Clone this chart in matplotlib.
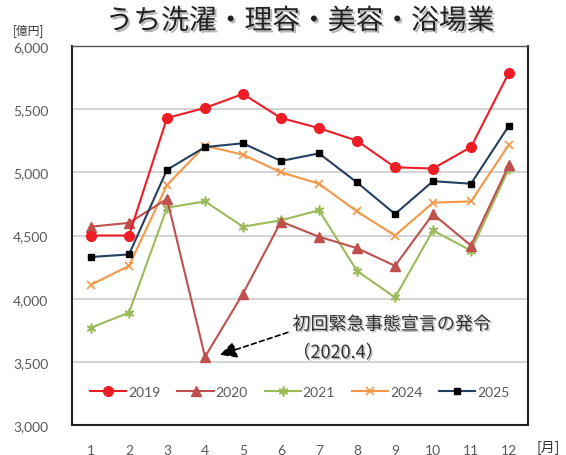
import matplotlib
matplotlib.use("Agg")
import matplotlib.pyplot as plt
import matplotlib.patheffects as pe

months = [1, 2, 3, 4, 5, 6, 7, 8, 9, 10, 11, 12]
month_labels = ["1", "2", "3", "4", "5", "6", "7", "8", "9", "10", "11", "12"]
y_ticks = [3000, 3500, 4000, 4500, 5000, 5500, 6000]
y_tick_labels = ["3,000", "3,500", "4,000", "4,500", "5,000", "5,500", "6,000"]

s2019 = [4500, 4500, 5430, 5510, 5620, 5430, 5350, 5250, 5040, 5030, 5200, 5790]
s2020 = [4570, 4600, 4790, 3540, 4040, 4610, 4490, 4400, 4260, 4670, 4420, 5060]
s2021 = [3770, 3890, 4720, 4770, 4570, 4620, 4700, 4220, 4010, 4540, 4380, 5030]
s2024 = [4110, 4260, 4900, 5210, 5140, 5000, 4910, 4690, 4500, 4760, 4770, 5220]
s2025 = [4330, 4350, 5020, 5200, 5230, 5090, 5150, 4920, 4670, 4930, 4910, 5370]

title = "うち洗濯・理容・美容・浴場業"
annot_line1 = "初回緊急事態宣言の発令"
annot_line2 = "（2020.4）"

JP = ["Noto Sans CJK JP", "DejaVu Sans"]
NUM = ["Lato", "DejaVu Sans"]
plt.rcParams["font.family"] = JP

fig = plt.figure(figsize=(5.66, 4.56), dpi=100)
ax = fig.add_axes([72 / 566, 30 / 456, (528 - 72) / 566, (426 - 47) / 456])

ax.plot(months, s2019, color="#EE1C25", lw=1.5, marker="o", ms=7, label="2019", zorder=5)
ax.plot(months, s2020, color="#C0504D", lw=1.5, marker="^", ms=6.5, label="2020", zorder=4)
ax.plot(months, s2021, color="#9BBB59", lw=1.5, marker=(6, 2, 0), ms=7, mew=1.2, label="2021", zorder=3)
ax.plot(months, s2024, color="#F79646", lw=1.5, marker="x", ms=6, mew=1.2, label="2024", zorder=3)
ax.plot(months, s2025, color="#243F60", lw=1.5, marker="s", ms=5, mfc="black", mec="black", label="2025", zorder=4)

ax.set_xlim(0.5, 12.5)
ax.set_ylim(3000, 6000)
ax.set_yticks(y_ticks)
ax.set_yticklabels(y_tick_labels, fontfamily=NUM, fontsize=10, color="#595959")
ax.set_xticks(months)
ax.set_xticklabels(month_labels, fontfamily=NUM, fontsize=10, color="#595959")
ax.tick_params(axis="both", length=0)
ax.tick_params(axis="y", pad=17)
ax.tick_params(axis="x", pad=14)
ax.grid(axis="y", color="#C8C8C8", lw=1.1)
ax.set_axisbelow(True)
for sp in ax.spines.values():
    sp.set_color("#222222")
    sp.set_linewidth(1.5)
ax.spines["top"].set_linewidth(1.0)
ax.spines["top"].set_color("#555555")

leg = ax.legend(loc="center", bbox_to_anchor=(0.5, (426 - 393) / 379), ncol=5, frameon=False,
                handlelength=2.6, columnspacing=1.2, handletextpad=0.15,
                prop={"family": NUM, "size": 10})
for t in leg.get_texts():
    t.set_color("#595959")

ax.annotate("", xy=(4.32, 3548), xytext=(6.25, 3740),
            arrowprops=dict(arrowstyle="-|>,head_length=1.0,head_width=0.5", linestyle=(0, (3, 2)),
                            color="black", lw=1.2))
sh = [pe.withSimplePatchShadow(offset=(1, -1), alpha=0.3)]
ax.text(6.3, 3795, annot_line1, fontsize=13, color="#333333", va="center", ha="left", path_effects=sh)
ax.text(6.3, 3570, annot_line2, fontsize=13, color="#333333", va="center", ha="left", path_effects=sh)

fig.text(300 / 566, 1 - 22 / 456, title, fontsize=20, color="#222222", ha="center", va="center",
         path_effects=[pe.withSimplePatchShadow(offset=(1.5, -1.5), alpha=0.3)])
fig.text(28 / 566, 1 - 31 / 456, "[億円]", fontsize=8.5, color="#333333", ha="center", va="center")
fig.text(548 / 566, 1 - 448 / 456, "[月]", fontsize=10, color="#333333", ha="center", va="center")

fig.savefig("out.png", dpi=100)
